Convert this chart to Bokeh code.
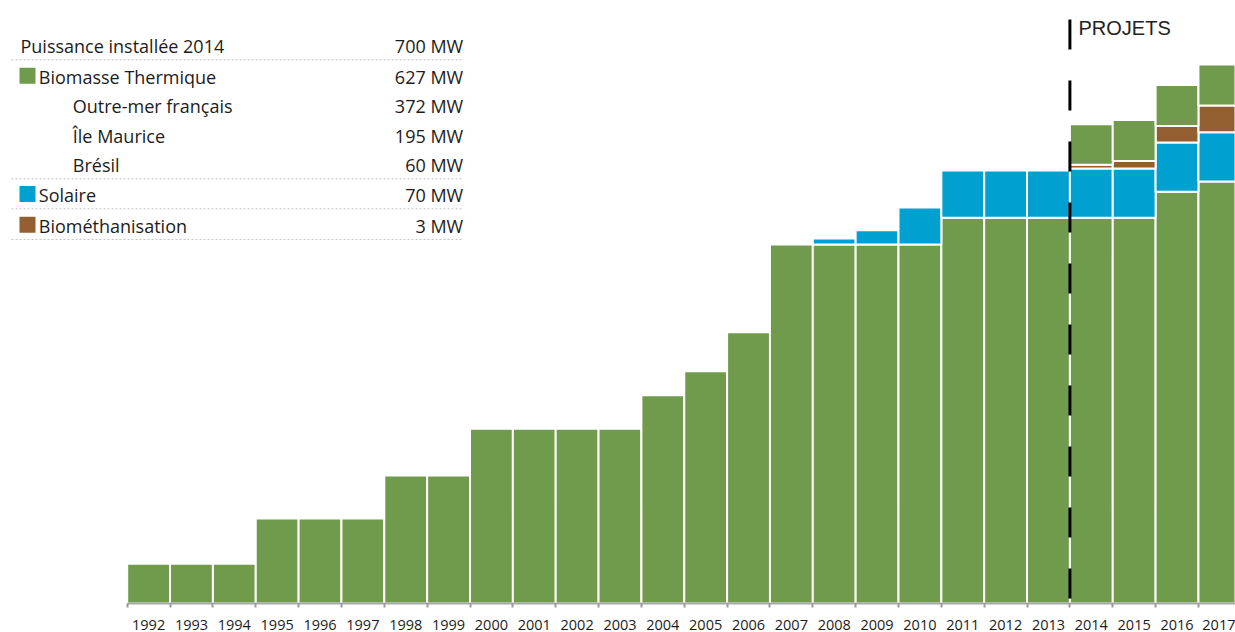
from bokeh.plotting import figure
from bokeh.models import FixedTicker
from bokeh.core.properties import value
from bokeh.embed import file_html
from bokeh.resources import INLINE

# ---------------- data ----------------
years = list(range(1992, 2018))
# installed capacity (MW)
biomasse = [58, 58, 58, 124, 124, 124, 187, 187, 255, 255, 255, 255, 304,
            339, 396, 524, 524, 524, 524, 563, 563, 563, 563, 563, 601, 616]
solaire = [0] * 16 + [9, 21, 54, 69, 69, 69, 72, 72, 72, 72]
biomethanisation = [0] * 22 + [5.5, 11, 24, 39]
biomasse_projets = [0] * 22 + [59, 60, 60, 60]

table_labels = ["Puissance installée 2014", "Biomasse Thermique", "Outre-mer français",
                "Île Maurice", "Brésil", "Solaire", "Biométhanisation"]
table_values = ["700 MW", "627 MW", "372 MW", "195 MW", "60 MW", "70 MW", "3 MW"]
projects_from = 2014
projects_label = "PROJETS"

GREEN = "#709B4C"
BLUE = "#00A0D1"
BROWN = "#935F31"
TEXT = "#1c1c1c"

# ---------------- geometry helpers (reference pixel -> data) ----------------
W, H = 1235, 632
PX0, SX, X0 = 126.7, 42.85, 1991.5
BASE, K = 603.0, 1.4599
TXT_DY = -6.5          # text baseline correction
x_start = X0 - PX0 / SX
x_end = X0 + (W - PX0) / SX
y_end = BASE * K


def X(px):
    return X0 + (px - PX0) / SX


def Y(py):
    return (BASE - py) * K


def YT(py):
    return Y(py + TXT_DY)


p = figure(width=W, height=H, x_range=(x_start, x_end), y_range=(0, y_end),
           output_backend="svg", toolbar_location=None, y_axis_location=None,
           min_border_left=0, min_border_right=0, min_border_top=0,
           min_border_bottom=int(H - BASE))
p.outline_line_color = None
p.grid.visible = False
p.background_fill_color = "white"
p.border_fill_color = "white"

# ---------------- bars ----------------
def draw(bottoms, heights, color):
    xs, b, t = [], [], []
    for yr, bo, h in zip(years, bottoms, heights):
        if h > 0:
            xs.append(yr)
            b.append(bo)
            t.append(bo + h)
    p.vbar(x=xs, bottom=b, top=t, width=1, fill_color=color,
           line_color="white", line_width=2)


b1 = [0] * len(years)
b2 = [a + c for a, c in zip(b1, biomasse)]
b3 = [a + c for a, c in zip(b2, solaire)]
b4 = [a + c for a, c in zip(b3, biomethanisation)]
draw(b1, biomasse, GREEN)
draw(b2, solaire, BLUE)
draw(b3, biomethanisation, BROWN)
draw(b4, biomasse_projets, GREEN)

# dashed "projects" separator
xp = projects_from - 0.5
p.segment(x0=[xp], y0=[Y(19)], x1=[xp], y1=[0], line_color="black",
          line_width=3, line_dash="30 31")
p.text(x=[X(1078)], y=[YT(33.5)], text=[projects_label],
       text_font=value("Liberation Sans"), text_font_size="20px",
       text_color="#222222", text_baseline="alphabetic", text_align="left")

# ---------------- axis ----------------
ax = p.xaxis[0]
ax.ticker = FixedTicker(ticks=years, minor_ticks=[y - 0.5 for y in years] + [years[-1] + 0.5])
ax.bounds = (years[0] - 0.5, years[-1] + 0.5)
ax.major_tick_out = 0
ax.major_tick_in = 0
ax.minor_tick_out = 4
ax.minor_tick_in = 0
ax.minor_tick_line_color = "#9a9a9a"
ax.minor_tick_line_width = 2
ax.axis_line_color = "#a8a8a8"
ax.axis_line_width = 2
ax.major_label_standoff = 12
ax.major_label_text_font = "Open Sans"
ax.major_label_text_font_size = "14.5px"
ax.major_label_text_line_height = 1.0
ax.major_label_text_color = TEXT

# ---------------- table legend ----------------
row_base = [51.7, 82.7, 112.3, 141.7, 170.7, 201, 231.7]
row_x = [20, 38.3, 72.3, 72.3, 72.3, 38.3, 38.3]
p.text(x=[X(v) for v in row_x], y=[YT(v) for v in row_base], text=table_labels,
       text_font=value("Open Sans"), text_font_size="18px", text_color=TEXT,
       text_baseline="alphabetic", text_align="left")
p.text(x=[X(462.7)] * len(table_values), y=[YT(v) for v in row_base], text=table_values,
       text_font=value("Open Sans"), text_font_size="18px", text_color=TEXT,
       text_baseline="alphabetic", text_align="right")

sep_y = [59.3, 178.3, 208.3, 239]
p.segment(x0=[X(11)] * 4, y0=[Y(v) for v in sep_y], x1=[X(463)] * 4,
          y1=[Y(v) for v in sep_y], line_color="#c4c4c4", line_width=1, line_dash="2 2")

sw_rows = [1, 5, 6]
sw_colors = [GREEN, BLUE, BROWN]
p.scatter(x=[X(27)] * 3, y=[Y(row_base[i] - 7.5) for i in sw_rows], marker="square",
          size=16, fill_color=sw_colors, line_color=None)

open("out.html", "w").write(file_html(p, INLINE))
